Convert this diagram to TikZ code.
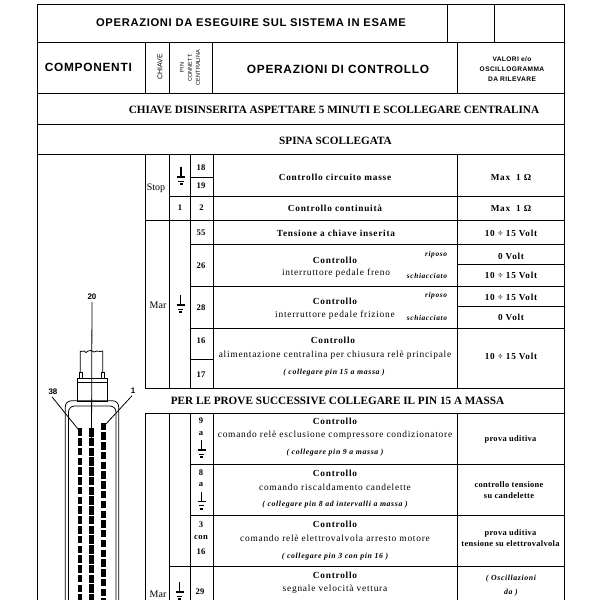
\documentclass[tikz,border=0pt]{standalone}
\usepackage{fontspec}
\setmainfont{Liberation Serif}
\newfontfamily\hsans[LetterSpace=6]{Liberation Sans}
\newfontfamily\hsanstight{Liberation Sans}
\newfontfamily\sers[LetterSpace=8]{Liberation Serif}
\newfontfamily\serp[LetterSpace=4]{Liberation Serif}
\tikzset{
 grid/.style={line width=0.9pt,black},
 thin grid/.style={line width=0.8pt,black},
 txt/.style={inner sep=0pt,outer sep=0pt,align=center,font=\fontsize{8}{9}\selectfont},
 title/.style={txt,font=\hsans\bfseries\fontsize{11.2}{12}\selectfont},
 bigtitle/.style={txt,font=\hsans\bfseries\fontsize{11.9}{12}\selectfont},
 banner/.style={txt,font=\bfseries\fontsize{11.2}{12}\selectfont},
 pinno/.style={txt,font=\serp\bfseries\fontsize{8.6}{9}\selectfont},
 ctl/.style={txt,font=\sers\bfseries\fontsize{9.3}{10}\selectfont},
 desc/.style={txt,font=\sers\fontsize{9.4}{10}\selectfont},
 hint/.style={txt,font=\sers\bfseries\itshape\fontsize{7.8}{9}\selectfont},
 state/.style={txt,font=\sers\bfseries\itshape\fontsize{7.4}{9}\selectfont,anchor=east},
 val/.style={txt,font=\sers\bfseries\fontsize{9.2}{10}\selectfont},
 valtwo/.style={txt,font=\serp\bfseries\fontsize{8.4}{11}\selectfont},
 key/.style={txt,font=\fontsize{10}{11}\selectfont},
 conn/.style={txt,font=\hsanstight\bfseries\fontsize{8}{9}\selectfont},
 pics/gnd/.style={code={
   \draw[line width=1.4pt] (0,0) -- (0,10);
   \draw[line width=1.7pt] (-4,10) -- (4,10);
   \draw[line width=0.9pt] (-2.6,14) -- (2.6,14);
   \fill (-1.5,16.2) rectangle (1.5,18);
 }}
}
\begin{document}
\begin{tikzpicture}[x=1pt,y=-1pt]
\useasboundingbox (0,0) rectangle (600,600);
\begin{scope}
\clip (0,0) rectangle (600,600);
% outer
\draw[grid] (37.5,604) -- (37.5,4.5) -- (564.5,4.5) -- (564.5,604);
% full-width rows
\foreach \y in {42.2,93.2,124.3,154.5}
  \draw[grid] (37.5,\y) -- (564.5,\y);
% top boxes
\draw[grid] (447.5,4.5) -- (447.5,42.2) (494.5,4.5) -- (494.5,42.2);
% header columns
\foreach \x in {145.5,169.5,212.5,457.5}
  \draw[grid] (\x,42.2) -- (\x,93.2);
% body columns
\foreach \x in {145.5,169.5,190.5,213,457.5}{
  \draw[grid] (\x,154.5) -- (\x,388);
  \draw[grid] (\x,413.3) -- (\x,604);
}
% body rows
\draw[grid] (191,177) -- (213,177);
\draw[grid] (169.5,196.5) -- (564.5,196.5);
\draw[grid] (145,220.5) -- (564.5,220.5);
\draw[grid] (190,244.5) -- (564.5,244.5);
\draw[grid] (457.5,264.5) -- (564.5,264.5);
\draw[grid] (190,286.6) -- (564.5,286.6);
\draw[grid] (457.5,306) -- (564.5,306);
\draw[grid] (190,328) -- (564.5,328);
\draw[grid] (190,359.3) -- (213,359.3);
\draw[grid] (145,388) -- (564.5,388);
\draw[grid] (145,413.3) -- (564.5,413.3);
\draw[grid] (189.5,464.3) -- (564.5,464.3);
\draw[grid] (189.5,515) -- (564.5,515);
\draw[grid] (168.5,566.7) -- (564.5,566.7);
% connector drawing
\draw[thin grid] (80.2,373) -- (80.2,351.5) -- (84,351) -- (86,352.5) -- (88,351) -- (91,350.5) -- (94,352) -- (97,351) -- (100,351.5) -- (102.7,351) -- (102.7,373);
\draw[thin grid] (79.5,378.3) rectangle (82.8,372.8);
\draw[thin grid] (101,378.3) rectangle (104.6,372.8);
\draw[thin grid] (77.3,378.3) rectangle (107.3,401.5);
\draw[thin grid] (77.3,382.3) -- (107.3,382.3);
\draw[thin grid,rounded corners=6pt] (65.3,604) -- (65.3,400.8) -- (118.7,400.8) -- (118.7,604);
\draw[thin grid,rounded corners=6pt] (68.5,604) -- (68.5,406) -- (116,406) -- (116,604);
\foreach \i in {0,...,18}{
  \fill (78,{428.3+9.77*\i}) rectangle (82,{435.8+9.77*\i});
  \fill (89,{428+9.77*\i}) rectangle (94,{436.5+9.77*\i});
}
\foreach \i in {0,...,18}
  \fill (101,{422.6+9.77*\i}) rectangle (106,{430+9.77*\i});
\coordinate (p20) at (91.5,440);
\coordinate (p38) at (78,429);
\coordinate (p1) at (105,425);
\end{scope}
\node[conn] (n20) at (92,297) {20};
\node[conn] (n38) at (53,392) {38};
\node[conn] (n1) at (133,391) {1};
\draw[thin grid] (n20.south) ++(0,2) -- (p20);
\draw[thin grid] (n38.south) ++(-1,2) -- (p38);
\draw[thin grid] (n1.south) ++(-1,2) -- (p1);
% grounds
\pic at (181,167) {gnd};
\pic at (180.7,295) {gnd};
\pic at (201.7,440) {gnd};
\pic at (201.7,491.5) {gnd};
\pic at (179.5,582) {gnd};
% header text
\node[title] (t1) at (251,23) {OPERAZIONI DA ESEGUIRE SUL SISTEMA IN ESAME};
\node[bigtitle] (t2) at (88.3,67) {COMPONENTI};
\node[conn,font=\hsanstight\fontsize{7}{8}\selectfont,rotate=90] (t3) at (160,67) {CHIAVE};
\node[conn,font=\hsanstight\fontsize{5.6}{8}\selectfont,rotate=90] (t4) at (190,67.5) {PIN\\CONNETT.\\CENTRALINA};
\node[bigtitle] (t5) at (338,69) {OPERAZIONI DI CONTROLLO};
\node[conn,font=\hsans\bfseries\fontsize{6.6}{10}\selectfont] (t6) at (512,69) {VALORI e/o\\OSCILLOGRAMMA\\DA RILEVARE};
\node[banner] (b1) at (334,110) {CHIAVE DISINSERITA ASPETTARE 5 MINUTI E SCOLLEGARE CENTRALINA};
\node[banner] (b2) at (335.5,140.5) {SPINA SCOLLEGATA};
\node[banner] (b3) at (337.5,401) {PER LE PROVE SUCCESSIVE COLLEGARE IL PIN 15 A MASSA};
% key column
\node[key] (k1) at (156,188) {Stop};
\node[key] (k2) at (158,305) {Mar};
\node[key] (k3) at (158,594.5) {Mar};
% pins
\node[pinno] (p18) at (201,168) {18};
\node[pinno] (p19) at (201,186) {19};
\node[pinno] (pa1) at (180,208) {1};
\node[pinno] (pa2) at (201.5,208) {2};
\node[pinno] (p55) at (201,233) {55};
\node[pinno] (p26) at (201,266) {26};
\node[pinno] (p28) at (201,308) {28};
\node[pinno] (p16) at (201,341) {16};
\node[pinno] (p17) at (201,375) {17};
\node[pinno] (p9) at (201,421) {9};
\node[pinno] (p9a) at (201,434) {a};
\node[pinno] (p8) at (201,473) {8};
\node[pinno] (p8a) at (201,485) {a};
\node[pinno] (p3) at (201,525) {3};
\node[pinno] (p3c) at (201,538) {con};
\node[pinno] (p3d) at (201,552) {16};
\node[pinno] (p29) at (200,592) {29};
% operations
\node[ctl] (o1) at (335,177) {Controllo circuito masse};
\node[ctl] (o2) at (335,208) {Controllo continuità};
\node[ctl] (o3) at (336,233) {Tensione a chiave inserita};
\node[ctl] (o4) at (335,260) {Controllo};
\node[desc] (o4b) at (336,273) {interruttore pedale freno};
\node[state] (s1) at (447,254.5) {riposo};
\node[state] (s2) at (447,276) {schiacciato};
\node[ctl] (o5) at (335,301) {Controllo};
\node[desc] (o5b) at (335,315) {interruttore pedale frizione};
\node[state] (s3) at (447,296) {riposo};
\node[state] (s4) at (447,318) {schiacciato};
\node[ctl] (o6) at (333,340) {Controllo};
\node[desc] (o6b) at (335,355) {alimentazione centralina per chiusura relè principale};
\node[hint] (o6c) at (334,373) {( collegare pin 15 a massa )};
\node[ctl] (o7) at (335,421) {Controllo};
\node[desc] (o7b) at (335,435) {comando relè esclusione compressore condizionatore};
\node[hint] (o7c) at (335,453) {( collegare pin 9 a massa )};
\node[ctl] (o8) at (335,473) {Controllo};
\node[desc] (o8b) at (335,487) {comando riscaldamento candelette};
\node[hint] (o8c) at (335,505) {( collegare pin 8 ad intervalli a massa )};
\node[ctl] (o9) at (335,524) {Controllo};
\node[desc] (o9b) at (335,538) {comando relè elettrovalvola arresto motore};
\node[hint] (o9c) at (335,557) {( collegare pin 3 con pin 16 )};
\node[ctl] (o10) at (335,575) {Controllo};
\node[desc] (o10b) at (335,589) {segnale velocità vettura};
% values
\node[val] (v1) at (511,177) {Max\ \ 1 Ω};
\node[val] (v2) at (511,208) {Max\ \ 1 Ω};
\node[val] (v3) at (511,233) {10 ÷ 15\ Volt};
\node[val] (v4) at (511,256) {0\ Volt};
\node[val] (v5) at (511,275) {10 ÷ 15\ Volt};
\node[val] (v6) at (511,297) {10 ÷ 15\ Volt};
\node[val] (v7) at (511,317) {0\ Volt};
\node[val] (v8) at (511,356) {10 ÷ 15\ Volt};
\node[valtwo] (v9) at (510.5,439) {prova uditiva};
\node[valtwo] (v10) at (509,490) {controllo tensione\\su candelette};
\node[valtwo] (v11) at (510.5,538.5) {prova uditiva\\tensione su elettrovalvola};
\node[hint] (v12) at (511,579) {( Oscillazioni};
\node[hint] (v13) at (511,593) {da )};
\end{tikzpicture}
\end{document}
